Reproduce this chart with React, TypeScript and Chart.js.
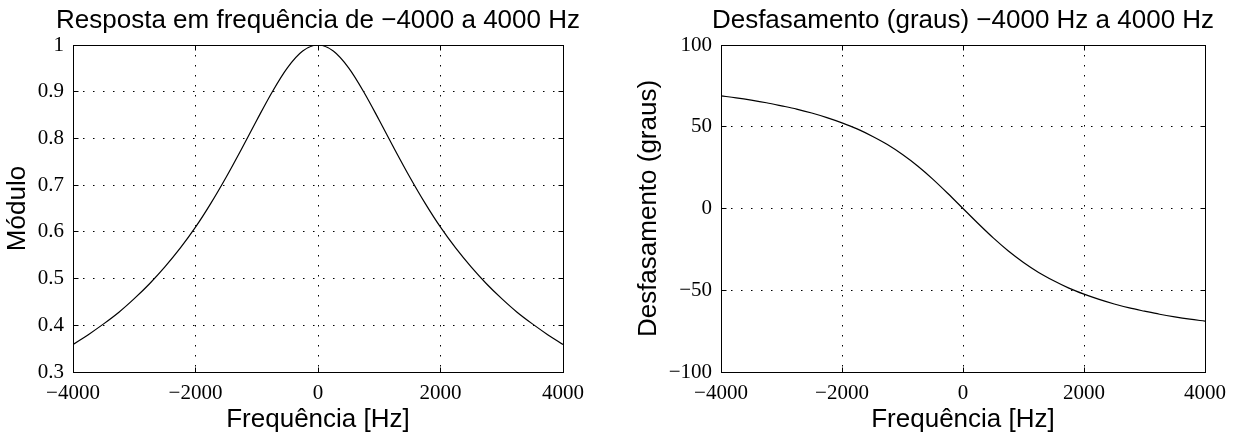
import React, { useEffect, useRef } from "react";
import { Chart, registerables } from "chart.js";

Chart.register(...registerables);

// ---------- data ----------
const freqHz = [
  -4000, -3750, -3500, -3250, -3000, -2750, -2500, -2250, -2000, -1750, -1500,
  -1250, -1000, -750, -500, -250, 0, 250, 500, 750, 1000, 1250, 1500, 1750,
  2000, 2250, 2500, 2750, 3000, 3250, 3500, 3750, 4000,
];
const magnitude = [
  0.359, 0.38, 0.403, 0.428, 0.457, 0.489, 0.525, 0.565, 0.61, 0.661, 0.717,
  0.777, 0.839, 0.899, 0.951, 0.987, 1.0, 0.987, 0.951, 0.899, 0.839, 0.777,
  0.717, 0.661, 0.61, 0.565, 0.525, 0.489, 0.457, 0.428, 0.403, 0.38, 0.359,
];
const phaseDeg = [
  68.9, 67.7, 66.3, 64.7, 62.8, 60.8, 58.4, 55.6, 52.4, 48.7, 44.2, 39.1, 33.0,
  26.0, 18.0, 9.2, 0.0, -9.2, -18.0, -26.0, -33.0, -39.1, -44.2, -48.7, -52.4,
  -55.6, -58.4, -60.8, -62.8, -64.7, -66.3, -67.7, -68.9,
];
const xTickValues = [-4000, -2000, 0, 2000, 4000];
const magTickValues = [0.3, 0.4, 0.5, 0.6, 0.7, 0.8, 0.9, 1];
const phaseTickValues = [-100, -50, 0, 50, 100];

const titleLeft = "Resposta em frequência de \u22124000 a 4000 Hz";
const titleRight = "Desfasamento (graus) \u22124000 Hz a 4000 Hz";
const xLabel = "Frequência [Hz]";
const yLabelLeft = "Módulo";
const yLabelRight = "Desfasamento (graus)";

// ---------- layout ----------
const W = 618;
const H = 437;
const SANS = '"Liberation Sans", Arial, sans-serif';
const SERIF = '"Liberation Serif", "Times New Roman", serif';

type PanelCfg = {
  xs: number[];
  ys: number[];
  yMin: number;
  yMax: number;
  yTicks: number[];
  yFmt: (v: number) => string;
  title: string;
  yLabel: string;
  plotLeft: number;
  plotRight: number;
  yLabelX: number;
};

const fmtSigned = (v: number) => String(v).replace("-", "\u2212");

function buildChart(canvas: HTMLCanvasElement, c: PanelCfg) {
  const plotTop = 45;
  const plotBottom = 372;

  const framePlugin = {
    id: "frame",
    afterDraw(chart: any) {
      const { ctx, chartArea: a, scales } = chart;
      const al = (p: number) => Math.round(p - 0.5) + 0.5;
      const L = al(a.left);
      const R = al(a.right);
      const T = al(a.top);
      const B = al(a.bottom);
      ctx.save();
      ctx.strokeStyle = "#000";
      ctx.lineWidth = 1;
      ctx.setLineDash([]);
      ctx.strokeRect(L, T, R - L, B - T);
      const tl = 5;
      ctx.beginPath();
      for (const v of xTickValues) {
        const x = al(scales.x.getPixelForValue(v));
        ctx.moveTo(x, B);
        ctx.lineTo(x, B - tl);
        ctx.moveTo(x, T);
        ctx.lineTo(x, T + tl);
      }
      for (const v of c.yTicks) {
        const y = al(scales.y.getPixelForValue(v));
        ctx.moveTo(L, y);
        ctx.lineTo(L + tl, y);
        ctx.moveTo(R, y);
        ctx.lineTo(R - tl, y);
      }
      ctx.stroke();

      ctx.fillStyle = "#000";
      ctx.font = `26px ${SANS}`;
      ctx.textAlign = "center";
      ctx.textBaseline = "alphabetic";
      const cx = (a.left + a.right) / 2;
      const cy = (a.top + a.bottom) / 2;
      ctx.fillText(c.title, cx, 28);
      ctx.fillText(xLabel, cx, 427);
      ctx.save();
      ctx.translate(c.yLabelX, cy);
      ctx.rotate(-Math.PI / 2);
      ctx.textBaseline = "middle";
      ctx.fillText(c.yLabel, 0, 0);
      ctx.restore();
      ctx.restore();
    },
  };

  return new Chart(canvas, {
    type: "line",
    data: {
      datasets: [
        {
          data: c.xs.map((x, i) => ({ x, y: c.ys[i] })),
          borderColor: "#000",
          borderWidth: 1.2,
          pointRadius: 0,
          cubicInterpolationMode: "monotone",
          fill: false,
        },
      ],
    },
    options: {
      animation: false,
      responsive: false,
      maintainAspectRatio: false,
      devicePixelRatio: 1,
      layout: {
        padding: { left: 0, right: W - c.plotRight, top: plotTop, bottom: 0 },
      },
      plugins: {
        legend: { display: false },
        title: { display: false },
        tooltip: { enabled: false },
      },
      scales: {
        x: {
          type: "linear",
          min: -4000,
          max: 4000,
          afterBuildTicks: (s: any) => {
            s.ticks = xTickValues.map((v) => ({ value: v }));
          },
          afterFit: (s: any) => {
            s.height = H - plotBottom;
          },
          ticks: {
            color: "#000",
            font: { family: SERIF, size: 21 },
            padding: 9,
            maxRotation: 0,
            autoSkip: false,
            callback: (v: any) => fmtSigned(Number(v)),
          },
          grid: { color: "#000", lineWidth: 1, drawTicks: false },
          border: { display: false, dash: [1.5, 8.5] },
        },
        y: {
          type: "linear",
          min: c.yMin,
          max: c.yMax,
          afterBuildTicks: (s: any) => {
            s.ticks = c.yTicks.map((v) => ({ value: v }));
          },
          afterFit: (s: any) => {
            s.width = c.plotLeft;
          },
          ticks: {
            color: "#000",
            font: { family: SERIF, size: 21 },
            padding: 9,
            autoSkip: false,
            callback: (v: any) => c.yFmt(Number(v)),
          },
          grid: { color: "#000", lineWidth: 1, drawTicks: false },
          border: { display: false, dash: [1.5, 8.5] },
        },
      },
    },
    plugins: [framePlugin],
  } as any);
}

function Panel({ cfg }: { cfg: PanelCfg }) {
  const ref = useRef<HTMLCanvasElement>(null);
  useEffect(() => {
    const chart = buildChart(ref.current!, cfg);
    return () => chart.destroy();
  }, []);
  return (
    <canvas
      ref={ref}
      width={W}
      height={H}
      style={{ display: "block", width: W, height: H }}
    />
  );
}

const leftCfg: PanelCfg = {
  xs: freqHz,
  ys: magnitude,
  yMin: 0.3,
  yMax: 1,
  yTicks: magTickValues,
  yFmt: (v) => (Math.abs(v - 1) < 1e-9 ? "1" : v.toFixed(1)),
  title: titleLeft,
  yLabel: yLabelLeft,
  plotLeft: 73,
  plotRight: 563,
  yLabelX: 18,
};

const rightCfg: PanelCfg = {
  xs: freqHz,
  ys: phaseDeg,
  yMin: -100,
  yMax: 100,
  yTicks: phaseTickValues,
  yFmt: (v) => fmtSigned(v),
  title: titleRight,
  yLabel: yLabelRight,
  plotLeft: 103,
  plotRight: 587,
  yLabelX: 31,
};

export default function App() {
  return (
    <div
      style={{
        position: "fixed",
        left: 0,
        top: 0,
        width: 1236,
        height: 437,
        display: "flex",
        background: "#fff",
      }}
    >
      <Panel cfg={leftCfg} />
      <Panel cfg={rightCfg} />
    </div>
  );
}
